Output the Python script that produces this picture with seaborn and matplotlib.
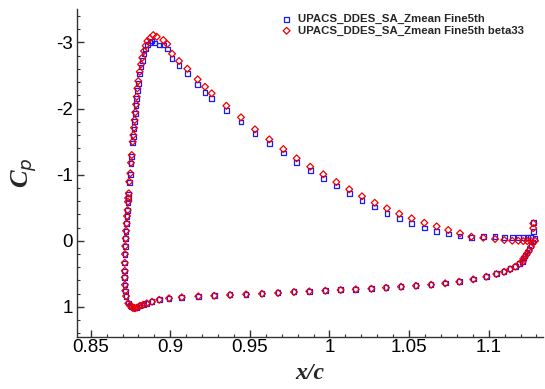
import numpy as np
import pandas as pd
import matplotlib
matplotlib.use("Agg")
import matplotlib.pyplot as plt
import seaborn as sns
from matplotlib.ticker import MultipleLocator

# ---------------- data ----------------
label_blue = "UPACS_DDES_SA_Zmean Fine5th"
label_red = "UPACS_DDES_SA_Zmean Fine5th beta33"

# lower surface (trailing edge -> stagnation)
x_lower_red = [1.1291, 1.1278, 1.1266, 1.1253, 1.1241, 1.1228, 1.1217, 1.1214, 1.1192,
               1.1167, 1.1134, 1.1096, 1.1048, 1.0985, 1.0903, 1.0815, 1.0727, 1.0638,
               1.0543, 1.0449, 1.0355, 1.0263, 1.0165, 1.0070, 0.9974, 0.9873, 0.9777,
               0.9677, 0.9576, 0.9476, 0.9375, 0.9276, 0.9176, 0.9072, 0.8992, 0.8931,
               0.8885, 0.8852, 0.8830, 0.8810, 0.8791, 0.8778, 0.8766, 0.8758, 0.8747,
               0.8736]
cp_lower_red = [0.000, 0.030, 0.090, 0.150, 0.195, 0.240, 0.275, 0.318, 0.352,
                0.393, 0.433, 0.469, 0.504, 0.545, 0.584, 0.620, 0.644, 0.666,
                0.681, 0.696, 0.711, 0.726, 0.735, 0.746, 0.756, 0.766, 0.776,
                0.791, 0.802, 0.811, 0.821, 0.832, 0.841, 0.856, 0.871, 0.893,
                0.923, 0.947, 0.968, 0.983, 1.010, 1.023, 1.018, 0.998, 0.980,
                0.947]
x_lower_blue = [1.1291, 1.1278, 1.1266, 1.1253, 1.1241, 1.1228, 1.1217, 1.1214, 1.1192,
                1.1167, 1.1134, 1.1096, 1.1048, 1.0985, 1.0903, 1.0815, 1.0727, 1.0638,
                1.0543, 1.0449, 1.0355, 1.0263, 1.0165, 1.0070, 0.9974, 0.9873, 0.9777,
                0.9677, 0.9576, 0.9476, 0.9375, 0.9276, 0.9176, 0.9072, 0.8992, 0.8931,
                0.8885, 0.8852, 0.8830, 0.8810, 0.8791, 0.8778, 0.8766, 0.8758, 0.8747,
                0.8736]
cp_lower_blue = [-0.030, 0.020, 0.075, 0.135, 0.180, 0.225, 0.262, 0.310, 0.345,
                 0.385, 0.425, 0.462, 0.498, 0.540, 0.578, 0.614, 0.640, 0.662,
                 0.678, 0.693, 0.708, 0.722, 0.732, 0.743, 0.753, 0.763, 0.773,
                 0.788, 0.798, 0.808, 0.818, 0.829, 0.838, 0.853, 0.868, 0.890,
                 0.920, 0.944, 0.965, 0.980, 1.005, 1.018, 1.015, 0.995, 0.975,
                 0.942]

# upper surface (stagnation -> suction peak -> trailing edge)
x_upper_red = [0.8722, 0.8717, 0.8715, 0.8714, 0.8714, 0.8714, 0.8715, 0.8717, 0.8720,
               0.8722, 0.8726, 0.8728, 0.8732, 0.8734, 0.8735, 0.8739, 0.8742, 0.8749,
               0.8753, 0.8758, 0.8764, 0.8768, 0.8772, 0.8776, 0.8780, 0.8785, 0.8789,
               0.8793, 0.8799, 0.8808, 0.8816, 0.8824, 0.8835, 0.8845, 0.8856, 0.8872,
               0.8893, 0.8915, 0.8956, 0.8981, 0.9011, 0.9055, 0.9107, 0.9172, 0.9218,
               0.9260, 0.9352, 0.9444, 0.9532, 0.9622, 0.9710, 0.9794, 0.9879, 0.9961,
               1.0043, 1.0124, 1.0204, 1.0284, 1.0361, 1.0438, 1.0516, 1.0596, 1.0673,
               1.0746, 1.0820, 1.0891, 1.0966, 1.1040, 1.1098, 1.1148, 1.1186, 1.1217,
               1.1242, 1.1264, 1.1280, 1.1280]
cp_upper_red = [0.837, 0.756, 0.666, 0.554, 0.454, 0.333, 0.201, 0.080, -0.036,
                -0.151, -0.263, -0.374, -0.464, -0.590, -0.646, -0.717, -0.893, -1.020,
                -1.180, -1.297, -1.498, -1.599, -1.710, -1.826, -1.943, -2.064, -2.179,
                -2.306, -2.416, -2.557, -2.669, -2.769, -2.870, -2.950, -3.021, -3.062,
                -3.112, -3.086, -3.036, -2.976, -2.829, -2.719, -2.602, -2.442, -2.330,
                -2.230, -2.042, -1.867, -1.685, -1.534, -1.387, -1.247, -1.120, -1.005,
                -0.888, -0.778, -0.672, -0.575, -0.490, -0.408, -0.339, -0.272, -0.218,
                -0.162, -0.112, -0.061, -0.045, -0.026, -0.011, 0.000, 0.000, 0.005,
                0.005, 0.000, -0.263, -0.190]
x_upper_blue = [0.8722, 0.8717, 0.8715, 0.8714, 0.8714, 0.8714, 0.8715, 0.8717, 0.8720,
                0.8722, 0.8726, 0.8728, 0.8732, 0.8734, 0.8735, 0.8739, 0.8742, 0.8749,
                0.8753, 0.8758, 0.8764, 0.8768, 0.8772, 0.8776, 0.8780, 0.8785, 0.8789,
                0.8793, 0.8799, 0.8808, 0.8816, 0.8824, 0.8835, 0.8845, 0.8856, 0.8872,
                0.8883, 0.8904, 0.8931, 0.8956, 0.8981, 0.9011, 0.9055, 0.9107, 0.9172,
                0.9218, 0.9260, 0.9352, 0.9444, 0.9532, 0.9622, 0.9710, 0.9794, 0.9879,
                0.9961, 1.0043, 1.0124, 1.0204, 1.0284, 1.0361, 1.0438, 1.0516, 1.0596,
                1.0673, 1.0746, 1.0820, 1.0891, 1.0966, 1.1040, 1.1098, 1.1148, 1.1186,
                1.1217, 1.1242, 1.1264, 1.1280, 1.1280]
cp_upper_blue = [0.840, 0.760, 0.670, 0.558, 0.458, 0.338, 0.206, 0.085, -0.030,
                 -0.145, -0.256, -0.366, -0.455, -0.580, -0.636, -0.706, -0.880, -1.005,
                 -1.165, -1.280, -1.480, -1.580, -1.690, -1.805, -1.920, -2.040, -2.152,
                 -2.278, -2.385, -2.522, -2.630, -2.727, -2.825, -2.900, -2.965, -2.995,
                 -3.021, -2.991, -2.961, -2.961, -2.900, -2.759, -2.648, -2.533, -2.360,
                 -2.239, -2.154, -1.973, -1.796, -1.625, -1.473, -1.327, -1.186, -1.059,
                 -0.944, -0.828, -0.717, -0.611, -0.510, -0.417, -0.333, -0.263, -0.192,
                 -0.142, -0.101, -0.071, -0.051, -0.061, -0.061, -0.051, -0.051, -0.051,
                 -0.051, -0.051, -0.051, -0.272, -0.136]

x_ticks = [0.85, 0.9, 0.95, 1.0, 1.05, 1.1]
x_tick_labels = ["0.85", "0.9", "0.95", "1", "1.05", "1.1"]
y_ticks = [-3, -2, -1, 0, 1]
y_tick_labels = ["-3", "-2", "-1", "0", "1"]

blue_df = pd.DataFrame({"x": x_lower_blue + x_upper_blue, "cp": cp_lower_blue + cp_upper_blue})
red_df = pd.DataFrame({"x": x_lower_red + x_upper_red, "cp": cp_lower_red + cp_upper_red})

# ---------------- plotting ----------------
sns.set_theme(style="white")
plt.rcParams["font.family"] = ["Liberation Sans", "DejaVu Sans"]

fig = plt.figure(figsize=(5.45, 3.89), dpi=100)
ax = fig.add_axes([0.1413, 0.1344, 0.855, 0.8416])

sns.scatterplot(data=blue_df, x="x", y="cp", marker="s", s=12, ax=ax, legend=False)
cb = ax.collections[-1]
cb.set_facecolor("none"); cb.set_edgecolor("#1a1aff"); cb.set_linewidth(0.9)
cb.set_label(label_blue)

sns.scatterplot(data=red_df, x="x", y="cp", marker="D", s=12, ax=ax, legend=False)
cr = ax.collections[-1]
cr.set_facecolor("none"); cr.set_edgecolor("#ee0000"); cr.set_linewidth(0.9)
cr.set_label(label_red)

ax.set_xlim(0.8414, 1.1341)
ax.set_ylim(1.452, -3.501)

ax.set_xticks(x_ticks)
ax.set_xticklabels(x_tick_labels)
ax.set_yticks(y_ticks)
ax.set_yticklabels(y_tick_labels)
ax.xaxis.set_minor_locator(MultipleLocator(0.01))
ax.yaxis.set_minor_locator(MultipleLocator(0.2))

for s in ["top", "right"]:
    ax.spines[s].set_visible(False)
for s in ["left", "bottom"]:
    ax.spines[s].set_color("#333333")
    ax.spines[s].set_linewidth(1.0)

ax.tick_params(axis="both", which="major", direction="in", length=5, width=1,
               color="#333333", labelsize=13.5, labelcolor="black",
               bottom=True, left=True, top=False, right=False)
ax.tick_params(axis="x", which="major", pad=2)
ax.tick_params(axis="y", which="major", pad=3)
ax.tick_params(axis="both", which="minor", direction="in", length=2.5, width=0.8,
               color="#333333", bottom=True, left=True, top=False, right=False)

ax.set_xlabel("x/c", fontsize=17, fontweight="bold", fontstyle="italic",
              family="Liberation Serif", labelpad=5)
ax.set_ylabel("C$_{p}$", fontsize=19, fontweight="bold",
              fontstyle="italic", family="Liberation Serif", labelpad=12)
ax.grid(False)

leg = ax.legend(loc="upper left", bbox_to_anchor=(0.44, 0.985), frameon=False,
                handlelength=0.8, handletextpad=0.6, labelspacing=0.12,
                borderpad=0.0, borderaxespad=0.0,
                prop={"family": "Liberation Sans", "weight": "bold", "size": 8.2})

fig.savefig("out.png", dpi=100)
